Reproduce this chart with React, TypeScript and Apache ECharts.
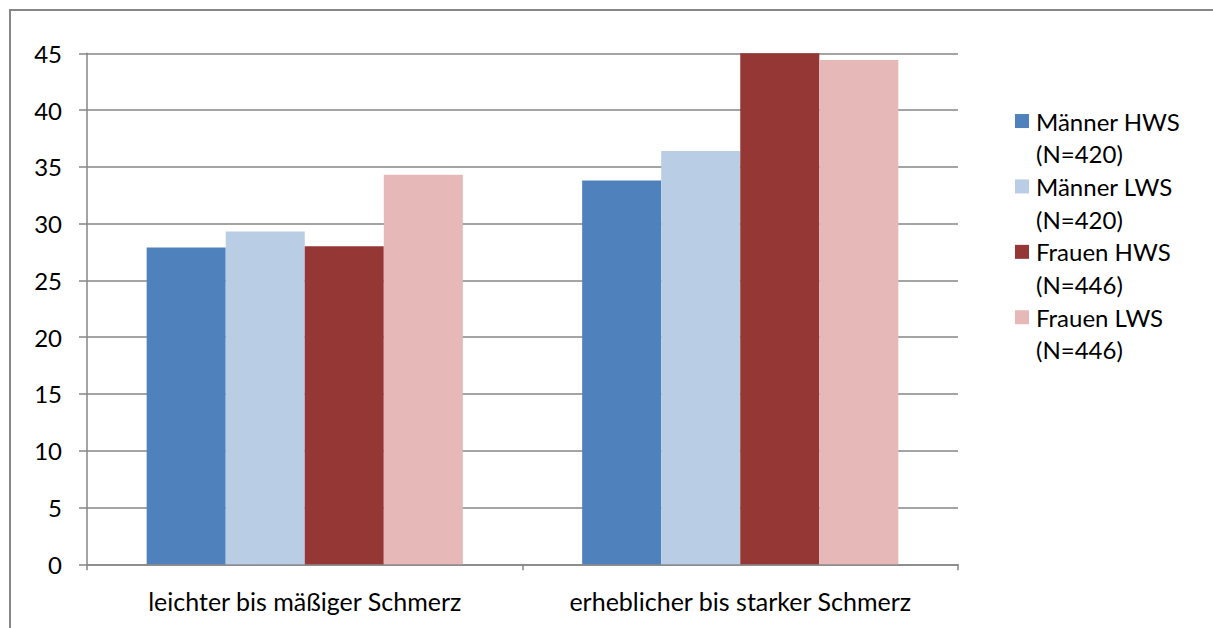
import React, { useEffect, useRef } from "react";
import * as echarts from "echarts";

const categories = ["leichter bis mäßiger Schmerz", "erheblicher bis starker Schmerz"];
const seriesNames = ["Männer HWS", "Männer LWS", "Frauen HWS", "Frauen LWS"];
const seriesN = ["(N=420)", "(N=420)", "(N=446)", "(N=446)"];
const maennerHWS = [27.9, 33.8];
const maennerLWS = [29.3, 36.4];
const frauenHWS = [28.0, 45.1];
const frauenLWS = [34.3, 44.4];
const seriesColors = ["#4F81BD", "#B9CDE5", "#953735", "#E6B9B8"];
const yTicks = { min: 0, max: 45, interval: 5 };

const FONT = "Lato";
const LH = 32.7;

export default function App() {
  const ref = useRef<HTMLDivElement>(null);
  useEffect(() => {
    if (!ref.current) return;
    const chart = echarts.init(ref.current, null, { renderer: "svg" });
    const values = [maennerHWS, maennerLWS, frauenHWS, frauenLWS];
    const nameToN: Record<string, string> = {};
    seriesNames.forEach((n, i) => (nameToN[n] = seriesN[i]));
    chart.setOption({
      animation: false,
      backgroundColor: "#ffffff",
      textStyle: { fontFamily: FONT },
      graphic: [
        {
          type: "rect",
          shape: { x: 10, y: 10, width: 1400, height: 800 },
          style: { fill: "none", stroke: "#868686", lineWidth: 2 },
          silent: true,
        },
      ],
      grid: { left: 87, right: 255, top: 53.3, bottom: 63.7, containLabel: false },
      legend: {
        orient: "vertical",
        left: 1015,
        top: 72,
        padding: 0,
        itemWidth: 14,
        itemHeight: 14,
        itemGap: -LH,
        icon: "rect",
        data: seriesNames,
        formatter: (name: string) => "\n" + name + "\n" + nameToN[name],
        textStyle: {
          fontFamily: FONT,
          fontSize: 24,
          color: "#000000",
          lineHeight: LH,
          padding: [0, 0, 0, 2],
        },
      },
      xAxis: {
        type: "category",
        data: categories,
        axisLine: { show: true, lineStyle: { color: "#868686", width: 1.5 } },
        axisTick: { show: true, length: 6, lineStyle: { color: "#868686", width: 1.5 } },
        axisLabel: {
          color: "#000000",
          fontFamily: FONT,
          fontSize: 25,
          margin: 24,
          interval: 0,
          hideOverlap: false,
        },
      },
      yAxis: {
        type: "value",
        min: yTicks.min,
        max: yTicks.max,
        interval: yTicks.interval,
        axisLine: { show: true, lineStyle: { color: "#868686", width: 1.5 } },
        axisTick: { show: true, length: 8, lineStyle: { color: "#868686", width: 1.5 } },
        splitLine: { show: true, lineStyle: { color: "#868686", width: 1.5 } },
        axisLabel: { color: "#000000", fontFamily: FONT, fontSize: 24, margin: 25 },
      },
      series: seriesNames.map((name, i) => ({
        name,
        type: "bar",
        data: values[i],
        barGap: "0%",
        barCategoryGap: "27.4%",
        clip: true,
        itemStyle: { color: seriesColors[i] },
      })),
    });
    return () => chart.dispose();
  }, []);
  return (
    <div
      ref={ref}
      style={{ position: "fixed", left: 0, top: 0, width: 1213, height: 628 }}
    />
  );
}
